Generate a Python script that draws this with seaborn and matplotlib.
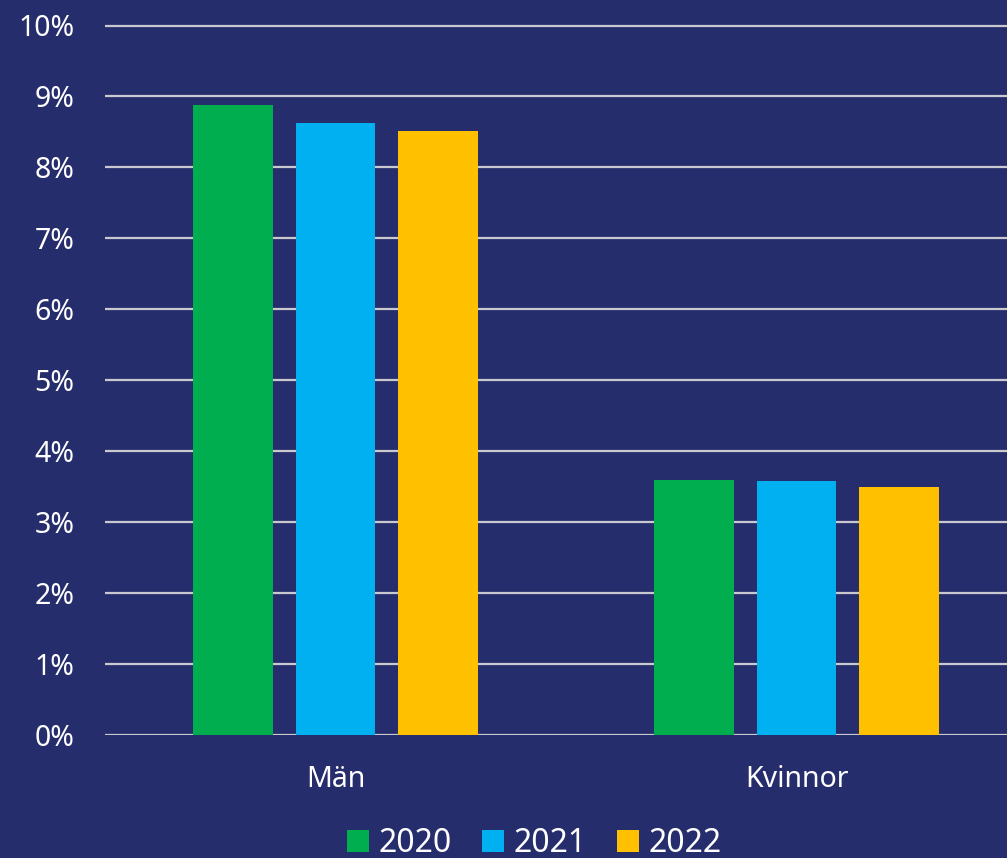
import matplotlib
matplotlib.use("Agg")
import matplotlib.pyplot as plt
from matplotlib.ticker import FuncFormatter
import pandas as pd
import seaborn as sns

# Andel per kön och år (procent)
groups = ["Män", "Kvinnor"]
years = ["2020", "2021", "2022"]
values_2020 = [8.88, 3.59]
values_2021 = [8.62, 3.58]
values_2022 = [8.51, 3.49]
yticks = [0, 1, 2, 3, 4, 5, 6, 7, 8, 9, 10]

colors = ["#00AD4F", "#00B0F0", "#FFC000"]
bg = "#262D6C"
fg = "#FFFFFF"

rows = []
for year, vals in zip(years, [values_2020, values_2021, values_2022]):
    for g, v in zip(groups, vals):
        rows.append({"Kön": g, "År": year, "Andel": v})
df = pd.DataFrame(rows)

sns.set_theme(style="white")
plt.rcParams["font.family"] = ["Noto Sans", "DejaVu Sans"]

W, H = 1007, 858
fig = plt.figure(figsize=(W / 100, H / 100), dpi=100, facecolor=bg)

# axes geometry in pixels
px_per_pct = 70.9
y0_px = 734.5
ytop = 10.15
left_px, right_px = 105, W
ax = fig.add_axes([
    left_px / W,
    (H - y0_px) / H,
    (right_px - left_px) / W,
    ytop * px_per_pct / H,
])
ax.set_facecolor(bg)

sns.barplot(
    data=df, x="Kön", y="Andel", hue="År", hue_order=years,
    palette=colors, width=0.667, gap=0.22, saturation=1,
    linewidth=0, errorbar=None, ax=ax, legend=True,
)

cat_w = 461.0
ax.set_xlim(-0.5, -0.5 + (right_px - left_px) / cat_w)
ax.set_ylim(0, ytop)
ax.set_yticks(yticks)
ax.yaxis.set_major_formatter(FuncFormatter(lambda v, p: f"{v:.0f}%"))

ax.grid(axis="y", color="#C9C9CF", linewidth=1.6)
ax.grid(axis="x", visible=False)
ax.set_axisbelow(True)
for s in ax.spines.values():
    s.set_visible(False)
ax.axhline(0, color="#D9D9D9", linewidth=2, zorder=0.5)

ax.tick_params(axis="y", length=0, pad=22, labelsize=20.5, labelcolor=fg)
ax.tick_params(axis="x", length=0, pad=22, labelsize=20.5, labelcolor=fg)
ax.set_xlabel("")
ax.set_ylabel("")

handles, labels = ax.get_legend_handles_labels()
ax.get_legend().remove()
fig.legend(
    handles, labels, loc="center", bbox_to_anchor=(534.5 / W, 1 - 843.5 / H),
    ncol=3, frameon=False, fontsize=23, labelcolor=fg,
    handlelength=0.69, handleheight=0.69, handletextpad=0.3,
    columnspacing=0.95, borderpad=0, borderaxespad=0,
)

fig.savefig("out.png", dpi=100, facecolor=bg)
